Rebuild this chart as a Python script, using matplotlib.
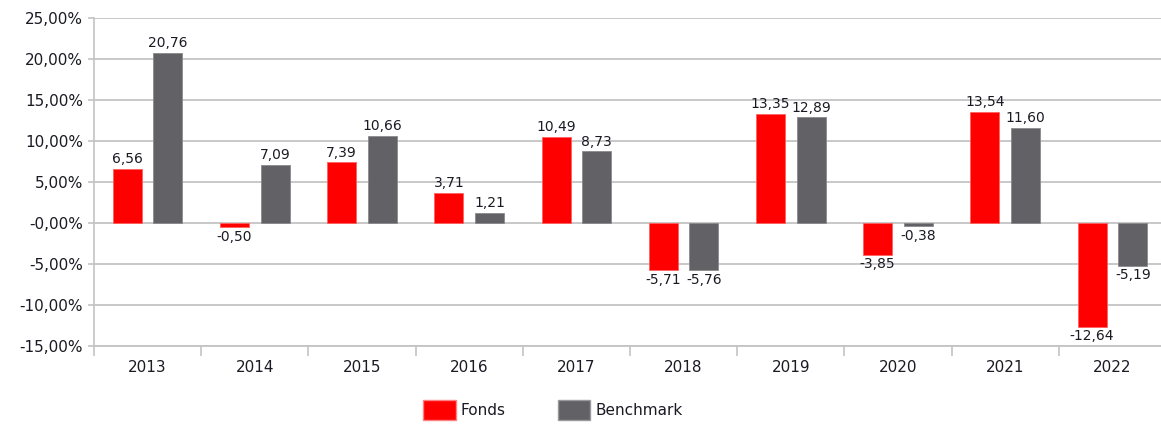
import numpy as np
import matplotlib.pyplot as plt
from matplotlib.patches import Patch

# values
years = ["2013", "2014", "2015", "2016", "2017", "2018", "2019", "2020", "2021", "2022"]
fonds = [6.56, -0.50, 7.39, 3.71, 10.49, -5.71, 13.35, -3.85, 13.54, -12.64]
benchmark = [20.76, 7.09, 10.66, 1.21, 8.73, -5.76, 12.89, -0.38, 11.60, -5.19]
y_ticks = [-15, -10, -5, 0, 5, 10, 15, 20, 25]
y_labels = ["-15,00%", "-10,00%", "-5,00%", "-0,00%", "5,00%", "10,00%", "15,00%", "20,00%", "25,00%"]

red = "#ff0000"
grey = "#616166"
grid_col = "#c4c4c4"
txt_col = "#1a1a24"

fig = plt.figure(figsize=(11.61, 4.25), dpi=100)
ax = fig.add_axes([94 / 1161, 79 / 425, 1072 / 1161, 328 / 425])

x = np.arange(len(years))
w = 0.27
b1 = ax.bar(x - 0.19, fonds, w, color=red, edgecolor="#ff6060", linewidth=0.6, zorder=3)
b2 = ax.bar(x + 0.19, benchmark, w, color=grey, edgecolor="#8a8a8e", linewidth=0.6, zorder=3)

def fmt(v):
    return ("%.2f" % v).replace(".", ",")

for bars, vals in [(b1, fonds), (b2, benchmark)]:
    for r, v in zip(bars, vals):
        cx = r.get_x() + r.get_width() / 2
        if v >= 0:
            ax.annotate(fmt(v), (cx, v), xytext=(0, 2), textcoords="offset points",
                        ha="center", va="bottom", fontsize=10, color=txt_col)
        else:
            ax.annotate(fmt(v), (cx, v), xytext=(0, -2), textcoords="offset points",
                        ha="center", va="top", fontsize=10, color=txt_col)

ax.set_xlim(-0.5, len(years) - 0.5)
ax.set_ylim(-15, 25)
ax.set_yticks(y_ticks)
ax.set_yticklabels(y_labels, fontsize=11, color=txt_col)
ax.set_xticks(x)
ax.set_xticklabels(years, fontsize=11, color=txt_col)
ax.set_xticks(np.arange(len(years) + 1) - 0.5, minor=True)
ax.tick_params(axis="x", which="major", length=0, pad=10)
ax.tick_params(axis="x", which="minor", length=7, color=grid_col, width=1.2)
ax.tick_params(axis="y", which="major", length=4, color=grid_col, width=1.2, pad=4)

ax.grid(axis="y", color=grid_col, linewidth=1.3, zorder=0)
ax.set_axisbelow(True)
for s in ["top", "right"]:
    ax.spines[s].set_visible(False)
ax.spines["left"].set_color(grid_col)
ax.spines["left"].set_linewidth(1.2)
ax.spines["bottom"].set_color(grid_col)
ax.spines["bottom"].set_linewidth(1.3)

handles = [Patch(facecolor=red, edgecolor="#ff8080", label="Fonds"),
           Patch(facecolor=grey, edgecolor="#9a9a9e", label="Benchmark")]
fig.legend(handles=handles, loc="center", bbox_to_anchor=(553 / 1161, 1 - 410 / 425),
           ncol=2, frameon=False, fontsize=11, handlelength=2.1, handleheight=1.6,
           handletextpad=0.35, columnspacing=3.4, labelcolor=txt_col)

fig.savefig("out.png", dpi=100)
